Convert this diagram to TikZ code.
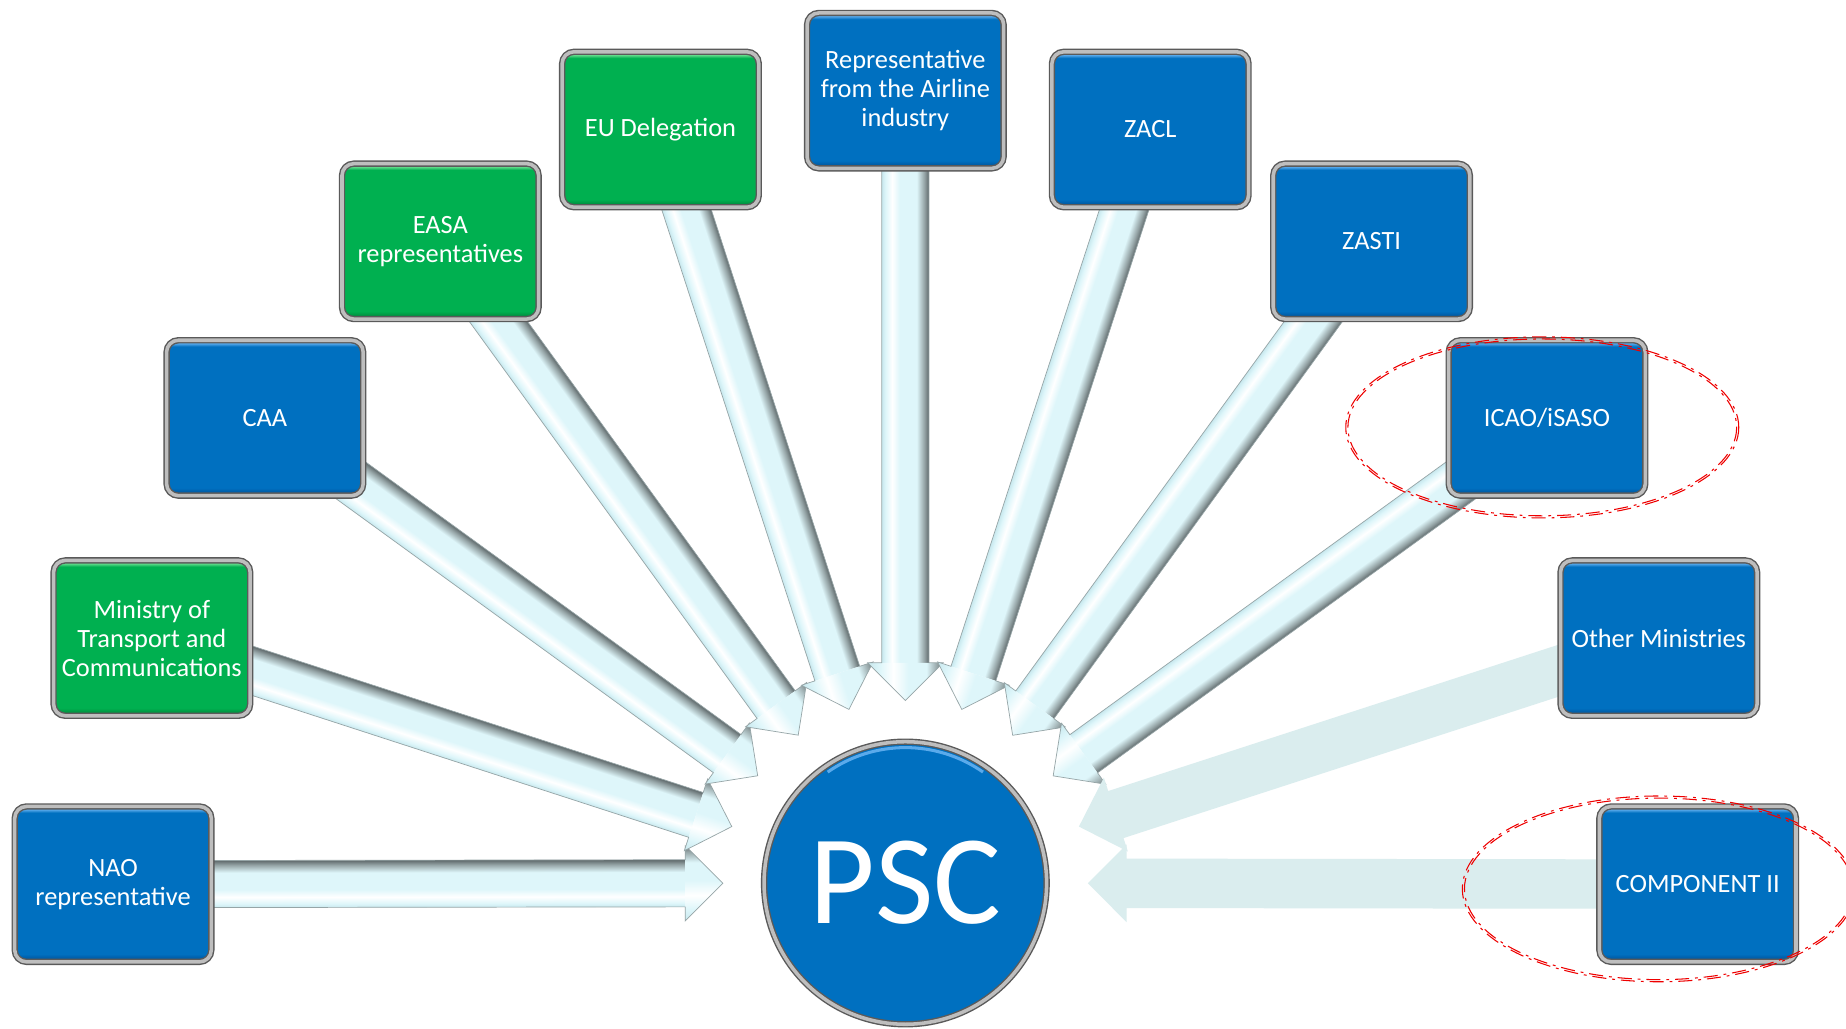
\documentclass[tikz,border=0pt]{standalone}
\usepackage{fontspec}
\setmainfont{Carlito}
\usetikzlibrary{shadows,calc}
\pgfdeclarelayer{canvaslayer}
\pgfdeclarelayer{background}
\pgfsetlayers{canvaslayer,background,main}

\definecolor{boxblue}{RGB}{0,112,192}
\definecolor{boxbluehi}{RGB}{90,170,235}
\definecolor{boxbluelo}{RGB}{0,72,140}
\definecolor{boxgreen}{RGB}{0,176,80}
\definecolor{boxgreenhi}{RGB}{100,220,140}
\definecolor{boxgreenlo}{RGB}{0,120,50}
\definecolor{rimdark}{RGB}{90,90,90}
\definecolor{rimlight}{RGB}{190,190,190}
\definecolor{acLight}{RGB}{222,246,250}
\definecolor{acLow}{RGB}{200,232,238}
\definecolor{acDark}{RGB}{150,165,167}
\definecolor{acDarker}{RGB}{95,105,107}
\definecolor{flatarrow}{RGB}{218,237,238}
\definecolor{ellred}{RGB}{238,0,0}

\pgfdeclareverticalshading{shaftshade}{100bp}{color(0bp)=(acLow); color(25bp)=(acLow); color(29bp)=(acLight); color(36bp)=(white); color(44bp)=(acLight); color(62bp)=(acLight); color(70bp)=(acDark); color(75bp)=(acDarker); color(100bp)=(acDarker)}
\pgfdeclareverticalshading{headshade}{100bp}{color(0bp)=(acLow); color(25bp)=(acLow); color(33bp)=(acLight); color(42bp)=(white); color(52bp)=(acLight); color(64bp)=(acLight); color(71bp)=(acDark); color(75bp)=(acDarker); color(100bp)=(acDarker)}
\pgfdeclareverticalshading{blueshade}{100bp}{color(0bp)=(boxbluelo); color(25bp)=(boxbluelo); color(27.5bp)=(boxblue); color(73bp)=(boxblue); color(74bp)=(boxbluehi); color(75bp)=(boxbluehi); color(100bp)=(boxbluehi)}
\pgfdeclareverticalshading{greenshade}{100bp}{color(0bp)=(boxgreenlo); color(25bp)=(boxgreenlo); color(27.5bp)=(boxgreen); color(73bp)=(boxgreen); color(74bp)=(boxgreenhi); color(75bp)=(boxgreenhi); color(100bp)=(boxgreenhi)}

\tikzset{
  orgbox/.style={rectangle, rounded corners=5pt, minimum width=83.5pt, minimum height=66pt,
    align=center, text=white, font=\fontsize{11.2}{12.3}\selectfont, inner sep=1pt,
    draw=rimdark, double=rimlight, double distance=1.5pt, line width=0.6pt,
    drop shadow={opacity=0.3, shadow xshift=0.8pt, shadow yshift=-1pt}},
  bluebox/.style={orgbox, shade, shading=blueshade},
  greenbox/.style={orgbox, shade, shading=greenshade},
  pscnode/.style={circle, minimum size=120pt, inner sep=0pt, fill=boxblue,
    draw=rimdark, double=rimlight, double distance=1.5pt, line width=0.6pt,
    text=white, font=\fontsize{54}{54}\selectfont},
  ringline/.style={ellred, line width=0.45pt, dash pattern=on 6pt off 2.5pt on 1.2pt off 2.5pt},
  arrowedge/.style={acDark, line width=0.3pt, line join=miter},
  flatfill/.style={fill=flatarrow},
}

% 3D arrow from a node to the PSC node
\newcommand\glassarrow[2]{%
  \path (#1); \pgfgetlastxy{\gax}{\gay}%
  \path (#2); \pgfgetlastxy{\gbx}{\gby}%
  \pgfmathsetmacro\gang{atan2((\gby)-(\gay),(\gbx)-(\gax))}%
  \pgfmathsetmacro\gdist{veclen((\gbx)-(\gax),(\gby)-(\gay))}%
  \pgfmathsetmacro\gtip{\gdist-77.5}%
  \pgfmathsetmacro\gbase{\gtip-16}%
  \begin{scope}[transform canvas={shift={(\gax,\gay)},rotate=\gang}]
    \shade[shading=shaftshade] (0pt,-10pt) rectangle (\gbase pt,10pt);
    \shade[shading=headshade] (\gbase pt,-16pt) -- (\gtip pt,0pt) -- (\gbase pt,16pt) -- cycle;
    \draw[arrowedge] (0pt,10pt) -- (\gbase pt,10pt) -- (\gbase pt,16pt) -- (\gtip pt,0pt)
      -- (\gbase pt,-16pt) -- (\gbase pt,-10pt) -- (0pt,-10pt);
  \end{scope}}

% flat arrow from a node to the PSC node
\newcommand\flatarrow[2]{%
  \path (#1); \pgfgetlastxy{\gax}{\gay}%
  \path (#2); \pgfgetlastxy{\gbx}{\gby}%
  \pgfmathsetmacro\gang{atan2((\gby)-(\gay),(\gbx)-(\gax))}%
  \pgfmathsetmacro\gdist{veclen((\gbx)-(\gax),(\gby)-(\gay))}%
  \pgfmathsetmacro\gtip{\gdist-77.5}%
  \pgfmathsetmacro\gbase{\gtip-16.5}%
  \begin{scope}[transform canvas={shift={(\gax,\gay)},rotate=\gang}]
    \fill[flatfill] (0pt,-10.5pt) -- (\gbase pt,-10.5pt) -- (\gbase pt,-16.5pt) -- (\gtip pt,0pt)
      -- (\gbase pt,16.5pt) -- (\gbase pt,10.5pt) -- (0pt,10.5pt) -- cycle;
  \end{scope}}

\begin{document}
\begin{tikzpicture}[x=0.5pt,y=-0.5pt]
\useasboundingbox (0,0) rectangle (1568,874);
\begin{pgfonlayer}{canvaslayer}
  \fill[white] (0,0) rectangle (1568,874);
\end{pgfonlayer}

% central node
\node[pscnode] (psc) at (769,750) {PSC};
\draw[boxbluehi, line width=1.3pt] (psc.center) ++(55:57.5pt) arc[start angle=55, end angle=125, radius=57.5pt];

% stakeholder boxes
\node[bluebox]  (nao)   at (96,751)   {NAO\\representative};
\node[greenbox] (mot)   at (129,542)  {Ministry of\\Transport and\\Communications};
\node[bluebox]  (caa)   at (225,355)  {CAA};
\node[greenbox] (easa)  at (374,205)  {EASA\\representatives};
\node[greenbox] (eu)    at (561,110)  {EU Delegation};
\node[bluebox]  (air)   at (769,77)   {Representative\\from the Airline\\industry};
\node[bluebox]  (zacl)  at (977,110)  {ZACL};
\node[bluebox]  (zasti) at (1165,205) {ZASTI};
\node[bluebox]  (icao)  at (1314,355) {ICAO/iSASO};
\node[bluebox]  (other) at (1409,542) {Other Ministries};
\node[bluebox]  (comp)  at (1442,751) {COMPONENT II};

% connectors
\begin{pgfonlayer}{background}
  \glassarrow{nao}{psc}
  \glassarrow{mot}{psc}
  \glassarrow{caa}{psc}
  \glassarrow{easa}{psc}
  \glassarrow{eu}{psc}
  \glassarrow{air}{psc}
  \glassarrow{zacl}{psc}
  \glassarrow{zasti}{psc}
  \glassarrow{icao}{psc}
  \flatarrow{other}{psc}
  \flatarrow{comp}{psc}
\end{pgfonlayer}

% red dash-dot rings
\draw[ringline] (1310,363) ellipse [x radius=165.1, y radius=75.1];
\draw[ringline] (1310,363) ellipse [x radius=166.9, y radius=76.9];
\draw[ringline] (1409,755) ellipse [x radius=165.1, y radius=77.1];
\draw[ringline] (1409,755) ellipse [x radius=166.9, y radius=78.9];
\end{tikzpicture}
\end{document}
